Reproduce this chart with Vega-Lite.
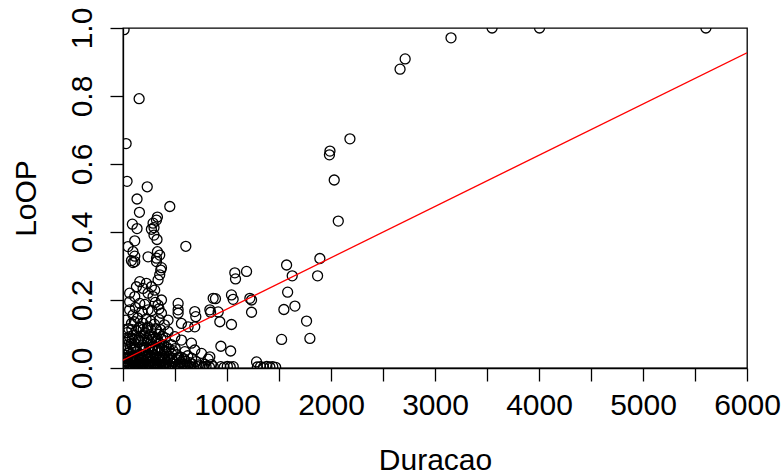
{
  "$schema": "https://vega.github.io/schema/vega-lite/v6.json",
  "width": 624,
  "height": 340,
  "autosize": {"type": "none"},
  "padding": {"left": 123, "top": 28, "right": 37, "bottom": 107},
  "background": "white",
  "config": {
    "view": {"stroke": "black", "strokeWidth": 1.3},
    "axis": {
      "grid": false,
      "domainColor": "black",
      "domainWidth": 1.3,
      "tickColor": "black",
      "tickWidth": 1.3,
      "tickSize": 13,
      "labelColor": "black",
      "titleColor": "black",
      "labelFont": "Liberation Sans",
      "titleFont": "Liberation Sans",
      "labelFontSize": 30,
      "titleFontSize": 30,
      "titleFontWeight": "normal",
      "labelOverlap": false,
      "labelFlush": false
    }
  },
  "datasets": {
    "points": [
      {"Duracao": 10, "LoOP": 0.995},
      {"Duracao": 155, "LoOP": 0.792},
      {"Duracao": 30, "LoOP": 0.66},
      {"Duracao": 39, "LoOP": 0.549},
      {"Duracao": 233, "LoOP": 0.533},
      {"Duracao": 135, "LoOP": 0.497},
      {"Duracao": 450, "LoOP": 0.475},
      {"Duracao": 158, "LoOP": 0.458},
      {"Duracao": 331, "LoOP": 0.444},
      {"Duracao": 322, "LoOP": 0.435},
      {"Duracao": 90, "LoOP": 0.423},
      {"Duracao": 135, "LoOP": 0.41},
      {"Duracao": 289, "LoOP": 0.426},
      {"Duracao": 273, "LoOP": 0.408},
      {"Duracao": 298, "LoOP": 0.413},
      {"Duracao": 298, "LoOP": 0.391},
      {"Duracao": 327, "LoOP": 0.378},
      {"Duracao": 113, "LoOP": 0.374},
      {"Duracao": 604, "LoOP": 0.358},
      {"Duracao": 48, "LoOP": 0.357},
      {"Duracao": 96, "LoOP": 0.342},
      {"Duracao": 113, "LoOP": 0.329},
      {"Duracao": 81, "LoOP": 0.316},
      {"Duracao": 241, "LoOP": 0.327},
      {"Duracao": 331, "LoOP": 0.342},
      {"Duracao": 353, "LoOP": 0.332},
      {"Duracao": 322, "LoOP": 0.323},
      {"Duracao": 370, "LoOP": 0.295},
      {"Duracao": 113, "LoOP": 0.313},
      {"Duracao": 96, "LoOP": 0.31},
      {"Duracao": 322, "LoOP": 0.313},
      {"Duracao": 363, "LoOP": 0.288},
      {"Duracao": 353, "LoOP": 0.274},
      {"Duracao": 337, "LoOP": 0.259},
      {"Duracao": 161, "LoOP": 0.254},
      {"Duracao": 225, "LoOP": 0.249},
      {"Duracao": 129, "LoOP": 0.239},
      {"Duracao": 273, "LoOP": 0.239},
      {"Duracao": 193, "LoOP": 0.234},
      {"Duracao": 305, "LoOP": 0.229},
      {"Duracao": 64, "LoOP": 0.22},
      {"Duracao": 241, "LoOP": 0.22},
      {"Duracao": 113, "LoOP": 0.21},
      {"Duracao": 289, "LoOP": 0.21},
      {"Duracao": 64, "LoOP": 0.195},
      {"Duracao": 370, "LoOP": 0.2},
      {"Duracao": 161, "LoOP": 0.19},
      {"Duracao": 337, "LoOP": 0.185},
      {"Duracao": 530, "LoOP": 0.19},
      {"Duracao": 530, "LoOP": 0.171},
      {"Duracao": 530, "LoOP": 0.161},
      {"Duracao": 690, "LoOP": 0.166},
      {"Duracao": 700, "LoOP": 0.151},
      {"Duracao": 835, "LoOP": 0.171},
      {"Duracao": 867, "LoOP": 0.205},
      {"Duracao": 64, "LoOP": 0.171},
      {"Duracao": 241, "LoOP": 0.171},
      {"Duracao": 370, "LoOP": 0.161},
      {"Duracao": 96, "LoOP": 0.156},
      {"Duracao": 433, "LoOP": 0.141},
      {"Duracao": 562, "LoOP": 0.131},
      {"Duracao": 626, "LoOP": 0.121},
      {"Duracao": 690, "LoOP": 0.121},
      {"Duracao": 81, "LoOP": 0.131},
      {"Duracao": 161, "LoOP": 0.121},
      {"Duracao": 241, "LoOP": 0.121},
      {"Duracao": 322, "LoOP": 0.112},
      {"Duracao": 433, "LoOP": 0.107},
      {"Duracao": 498, "LoOP": 0.092},
      {"Duracao": 562, "LoOP": 0.082},
      {"Duracao": 658, "LoOP": 0.073},
      {"Duracao": 64, "LoOP": 0.092},
      {"Duracao": 145, "LoOP": 0.082},
      {"Duracao": 241, "LoOP": 0.082},
      {"Duracao": 353, "LoOP": 0.073},
      {"Duracao": 690, "LoOP": 0.053},
      {"Duracao": 755, "LoOP": 0.043},
      {"Duracao": 835, "LoOP": 0.033},
      {"Duracao": 594, "LoOP": 0.048},
      {"Duracao": 466, "LoOP": 0.043},
      {"Duracao": 48, "LoOP": 0.043},
      {"Duracao": 177, "LoOP": 0.038},
      {"Duracao": 1573, "LoOP": 0.303},
      {"Duracao": 1188, "LoOP": 0.284},
      {"Duracao": 1075, "LoOP": 0.28},
      {"Duracao": 1082, "LoOP": 0.262},
      {"Duracao": 1627, "LoOP": 0.271},
      {"Duracao": 1583, "LoOP": 0.223},
      {"Duracao": 889, "LoOP": 0.204},
      {"Duracao": 1043, "LoOP": 0.215},
      {"Duracao": 1059, "LoOP": 0.202},
      {"Duracao": 1220, "LoOP": 0.205},
      {"Duracao": 1236, "LoOP": 0.2},
      {"Duracao": 1653, "LoOP": 0.182},
      {"Duracao": 1547, "LoOP": 0.172},
      {"Duracao": 1236, "LoOP": 0.164},
      {"Duracao": 842, "LoOP": 0.164},
      {"Duracao": 915, "LoOP": 0.165},
      {"Duracao": 931, "LoOP": 0.136},
      {"Duracao": 1043, "LoOP": 0.128},
      {"Duracao": 1765, "LoOP": 0.138},
      {"Duracao": 1525, "LoOP": 0.084},
      {"Duracao": 941, "LoOP": 0.064},
      {"Duracao": 1035, "LoOP": 0.05},
      {"Duracao": 819, "LoOP": 0.026},
      {"Duracao": 1284, "LoOP": 0.018},
      {"Duracao": 1871, "LoOP": 0.271},
      {"Duracao": 1893, "LoOP": 0.322},
      {"Duracao": 1797, "LoOP": 0.087},
      {"Duracao": 2031, "LoOP": 0.553},
      {"Duracao": 2070, "LoOP": 0.432},
      {"Duracao": 1990, "LoOP": 0.638},
      {"Duracao": 1985, "LoOP": 0.627},
      {"Duracao": 2182, "LoOP": 0.674},
      {"Duracao": 2664, "LoOP": 0.879},
      {"Duracao": 2713, "LoOP": 0.909},
      {"Duracao": 3154, "LoOP": 0.971},
      {"Duracao": 3549, "LoOP": 1.0},
      {"Duracao": 4005, "LoOP": 1.0},
      {"Duracao": 5605, "LoOP": 1.0},
      {"Duracao": 940, "LoOP": 0.004},
      {"Duracao": 972, "LoOP": 0.002},
      {"Duracao": 1003, "LoOP": 0.005},
      {"Duracao": 1031, "LoOP": 0.003},
      {"Duracao": 1060, "LoOP": 0.004},
      {"Duracao": 1292, "LoOP": 0.003},
      {"Duracao": 1322, "LoOP": 0.004},
      {"Duracao": 1351, "LoOP": 0.002},
      {"Duracao": 1383, "LoOP": 0.005},
      {"Duracao": 1412, "LoOP": 0.003},
      {"Duracao": 1440, "LoOP": 0.004},
      {"Duracao": 1468, "LoOP": 0.002},
      {"Duracao": 5, "LoOP": 0.004},
      {"Duracao": 26, "LoOP": 0.006},
      {"Duracao": 44, "LoOP": 0.003},
      {"Duracao": 67, "LoOP": 0.007},
      {"Duracao": 86, "LoOP": 0.002},
      {"Duracao": 104, "LoOP": 0.005},
      {"Duracao": 127, "LoOP": 0.004},
      {"Duracao": 146, "LoOP": 0.008},
      {"Duracao": 163, "LoOP": 0.003},
      {"Duracao": 187, "LoOP": 0.006},
      {"Duracao": 204, "LoOP": 0.002},
      {"Duracao": 226, "LoOP": 0.005},
      {"Duracao": 247, "LoOP": 0.007},
      {"Duracao": 263, "LoOP": 0.003},
      {"Duracao": 286, "LoOP": 0.004},
      {"Duracao": 306, "LoOP": 0.006},
      {"Duracao": 324, "LoOP": 0.002},
      {"Duracao": 347, "LoOP": 0.005},
      {"Duracao": 366, "LoOP": 0.003},
      {"Duracao": 384, "LoOP": 0.007},
      {"Duracao": 407, "LoOP": 0.004},
      {"Duracao": 428, "LoOP": 0.002},
      {"Duracao": 456, "LoOP": 0.006},
      {"Duracao": 481, "LoOP": 0.003},
      {"Duracao": 503, "LoOP": 0.005},
      {"Duracao": 532, "LoOP": 0.004},
      {"Duracao": 558, "LoOP": 0.002},
      {"Duracao": 591, "LoOP": 0.006},
      {"Duracao": 618, "LoOP": 0.003},
      {"Duracao": 652, "LoOP": 0.005},
      {"Duracao": 679, "LoOP": 0.002},
      {"Duracao": 712, "LoOP": 0.004},
      {"Duracao": 738, "LoOP": 0.006},
      {"Duracao": 771, "LoOP": 0.003},
      {"Duracao": 798, "LoOP": 0.005},
      {"Duracao": 832, "LoOP": 0.002},
      {"Duracao": 868, "LoOP": 0.004},
      {"Duracao": 15, "LoOP": 0.021},
      {"Duracao": 41, "LoOP": 0.018},
      {"Duracao": 69, "LoOP": 0.024},
      {"Duracao": 96, "LoOP": 0.019},
      {"Duracao": 121, "LoOP": 0.023},
      {"Duracao": 149, "LoOP": 0.017},
      {"Duracao": 176, "LoOP": 0.022},
      {"Duracao": 201, "LoOP": 0.019},
      {"Duracao": 229, "LoOP": 0.025},
      {"Duracao": 256, "LoOP": 0.018},
      {"Duracao": 281, "LoOP": 0.021},
      {"Duracao": 309, "LoOP": 0.016},
      {"Duracao": 336, "LoOP": 0.023},
      {"Duracao": 361, "LoOP": 0.019},
      {"Duracao": 391, "LoOP": 0.022},
      {"Duracao": 419, "LoOP": 0.017},
      {"Duracao": 452, "LoOP": 0.021},
      {"Duracao": 489, "LoOP": 0.018},
      {"Duracao": 521, "LoOP": 0.024},
      {"Duracao": 556, "LoOP": 0.017},
      {"Duracao": 601, "LoOP": 0.02},
      {"Duracao": 641, "LoOP": 0.016},
      {"Duracao": 702, "LoOP": 0.019},
      {"Duracao": 21, "LoOP": 0.038},
      {"Duracao": 58, "LoOP": 0.046},
      {"Duracao": 92, "LoOP": 0.035},
      {"Duracao": 131, "LoOP": 0.049},
      {"Duracao": 159, "LoOP": 0.041},
      {"Duracao": 198, "LoOP": 0.052},
      {"Duracao": 238, "LoOP": 0.037},
      {"Duracao": 272, "LoOP": 0.045},
      {"Duracao": 299, "LoOP": 0.039},
      {"Duracao": 331, "LoOP": 0.051},
      {"Duracao": 378, "LoOP": 0.036},
      {"Duracao": 411, "LoOP": 0.047},
      {"Duracao": 442, "LoOP": 0.034},
      {"Duracao": 518, "LoOP": 0.039},
      {"Duracao": 561, "LoOP": 0.031},
      {"Duracao": 622, "LoOP": 0.036},
      {"Duracao": 31, "LoOP": 0.066},
      {"Duracao": 79, "LoOP": 0.072},
      {"Duracao": 112, "LoOP": 0.063},
      {"Duracao": 151, "LoOP": 0.077},
      {"Duracao": 188, "LoOP": 0.068},
      {"Duracao": 219, "LoOP": 0.061},
      {"Duracao": 262, "LoOP": 0.074},
      {"Duracao": 291, "LoOP": 0.064},
      {"Duracao": 318, "LoOP": 0.079},
      {"Duracao": 352, "LoOP": 0.058},
      {"Duracao": 392, "LoOP": 0.067},
      {"Duracao": 421, "LoOP": 0.061},
      {"Duracao": 463, "LoOP": 0.069},
      {"Duracao": 502, "LoOP": 0.057},
      {"Duracao": 39, "LoOP": 0.104},
      {"Duracao": 101, "LoOP": 0.097},
      {"Duracao": 129, "LoOP": 0.109},
      {"Duracao": 174, "LoOP": 0.094},
      {"Duracao": 211, "LoOP": 0.103},
      {"Duracao": 258, "LoOP": 0.098},
      {"Duracao": 288, "LoOP": 0.091},
      {"Duracao": 342, "LoOP": 0.099},
      {"Duracao": 381, "LoOP": 0.093},
      {"Duracao": 409, "LoOP": 0.088},
      {"Duracao": 28, "LoOP": 0.141},
      {"Duracao": 109, "LoOP": 0.136},
      {"Duracao": 141, "LoOP": 0.147},
      {"Duracao": 189, "LoOP": 0.132},
      {"Duracao": 222, "LoOP": 0.144},
      {"Duracao": 268, "LoOP": 0.138},
      {"Duracao": 301, "LoOP": 0.129},
      {"Duracao": 349, "LoOP": 0.142},
      {"Duracao": 398, "LoOP": 0.127},
      {"Duracao": 119, "LoOP": 0.178},
      {"Duracao": 181, "LoOP": 0.166},
      {"Duracao": 209, "LoOP": 0.187},
      {"Duracao": 278, "LoOP": 0.169},
      {"Duracao": 311, "LoOP": 0.193},
      {"Duracao": 346, "LoOP": 0.174},
      {"Duracao": 12, "LoOP": 0.011},
      {"Duracao": 35, "LoOP": 0.009},
      {"Duracao": 55, "LoOP": 0.012},
      {"Duracao": 78, "LoOP": 0.01},
      {"Duracao": 115, "LoOP": 0.013},
      {"Duracao": 138, "LoOP": 0.009},
      {"Duracao": 172, "LoOP": 0.011},
      {"Duracao": 195, "LoOP": 0.012},
      {"Duracao": 215, "LoOP": 0.008},
      {"Duracao": 238, "LoOP": 0.012},
      {"Duracao": 272, "LoOP": 0.01},
      {"Duracao": 296, "LoOP": 0.011},
      {"Duracao": 315, "LoOP": 0.013},
      {"Duracao": 355, "LoOP": 0.009},
      {"Duracao": 395, "LoOP": 0.012},
      {"Duracao": 440, "LoOP": 0.01},
      {"Duracao": 470, "LoOP": 0.012},
      {"Duracao": 545, "LoOP": 0.009},
      {"Duracao": 575, "LoOP": 0.011},
      {"Duracao": 605, "LoOP": 0.01},
      {"Duracao": 665, "LoOP": 0.012},
      {"Duracao": 725, "LoOP": 0.009},
      {"Duracao": 785, "LoOP": 0.011},
      {"Duracao": 850, "LoOP": 0.01},
      {"Duracao": 8, "LoOP": 0.031},
      {"Duracao": 33, "LoOP": 0.028},
      {"Duracao": 52, "LoOP": 0.033},
      {"Duracao": 84, "LoOP": 0.029},
      {"Duracao": 108, "LoOP": 0.032},
      {"Duracao": 139, "LoOP": 0.028},
      {"Duracao": 168, "LoOP": 0.031},
      {"Duracao": 190, "LoOP": 0.027},
      {"Duracao": 218, "LoOP": 0.033},
      {"Duracao": 248, "LoOP": 0.029},
      {"Duracao": 266, "LoOP": 0.031},
      {"Duracao": 292, "LoOP": 0.028},
      {"Duracao": 318, "LoOP": 0.032},
      {"Duracao": 347, "LoOP": 0.029},
      {"Duracao": 372, "LoOP": 0.031},
      {"Duracao": 402, "LoOP": 0.027},
      {"Duracao": 432, "LoOP": 0.03},
      {"Duracao": 470, "LoOP": 0.028},
      {"Duracao": 540, "LoOP": 0.03},
      {"Duracao": 585, "LoOP": 0.027},
      {"Duracao": 660, "LoOP": 0.029},
      {"Duracao": 12, "LoOP": 0.056},
      {"Duracao": 45, "LoOP": 0.054},
      {"Duracao": 70, "LoOP": 0.058},
      {"Duracao": 100, "LoOP": 0.053},
      {"Duracao": 122, "LoOP": 0.057},
      {"Duracao": 170, "LoOP": 0.055},
      {"Duracao": 208, "LoOP": 0.052},
      {"Duracao": 250, "LoOP": 0.056},
      {"Duracao": 280, "LoOP": 0.054},
      {"Duracao": 310, "LoOP": 0.057},
      {"Duracao": 340, "LoOP": 0.053},
      {"Duracao": 370, "LoOP": 0.056},
      {"Duracao": 400, "LoOP": 0.052},
      {"Duracao": 440, "LoOP": 0.055},
      {"Duracao": 480, "LoOP": 0.051},
      {"Duracao": 18, "LoOP": 0.086},
      {"Duracao": 55, "LoOP": 0.083},
      {"Duracao": 88, "LoOP": 0.087},
      {"Duracao": 120, "LoOP": 0.084},
      {"Duracao": 160, "LoOP": 0.088},
      {"Duracao": 200, "LoOP": 0.083},
      {"Duracao": 232, "LoOP": 0.086},
      {"Duracao": 275, "LoOP": 0.084},
      {"Duracao": 305, "LoOP": 0.087},
      {"Duracao": 330, "LoOP": 0.083},
      {"Duracao": 365, "LoOP": 0.085},
      {"Duracao": 55, "LoOP": 0.116},
      {"Duracao": 85, "LoOP": 0.113},
      {"Duracao": 150, "LoOP": 0.117},
      {"Duracao": 195, "LoOP": 0.114},
      {"Duracao": 235, "LoOP": 0.118},
      {"Duracao": 270, "LoOP": 0.112},
      {"Duracao": 315, "LoOP": 0.116},
      {"Duracao": 360, "LoOP": 0.113}
    ],
    "fit": [
      {"Duracao": 0, "LoOP": 0.023},
      {"Duracao": 6000, "LoOP": 0.927}
    ]
  },
  "layer": [
    {
      "data": {"name": "points"},
      "mark": {"type": "point", "shape": "circle", "filled": false, "stroke": "black", "strokeWidth": 1.3, "size": 100, "clip": true, "opacity": 1},
      "encoding": {
        "x": {
          "field": "Duracao", "type": "quantitative",
          "scale": {"domain": [0, 6000], "nice": false, "zero": false},
          "axis": {
            "title": "Duracao",
            "values": [0, 500, 1000, 1500, 2000, 2500, 3000, 3500, 4000, 4500, 5000, 5500, 6000],
            "format": "d",
            "labelExpr": "datum.value % 1000 === 0 ? datum.label : ''",
            "labelPadding": 9,
            "titlePadding": 25
          }
        },
        "y": {
          "field": "LoOP", "type": "quantitative",
          "scale": {"domain": [0, 1], "nice": false, "zero": false},
          "axis": {
            "title": "LoOP",
            "values": [0, 0.2, 0.4, 0.6, 0.8, 1.0],
            "format": ".1f",
            "labelAngle": -90,
            "labelAlign": "center",
            "labelBaseline": "bottom",
            "labelPadding": 13,
            "titlePadding": 26
          }
        }
      }
    },
    {
      "data": {"name": "fit"},
      "mark": {"type": "line", "color": "red", "strokeWidth": 1.3, "clip": true},
      "encoding": {
        "x": {"field": "Duracao", "type": "quantitative"},
        "y": {"field": "LoOP", "type": "quantitative"}
      }
    }
  ]
}
